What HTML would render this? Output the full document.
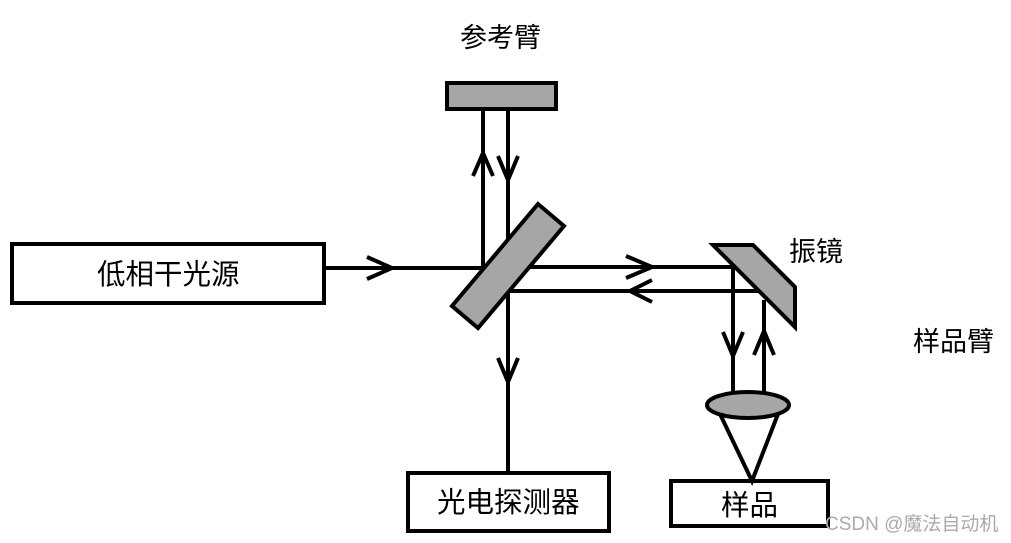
<!DOCTYPE html>
<html><head><meta charset="utf-8"><style>
html,body{margin:0;padding:0;background:#fff;}
svg{display:block;}
text{font-family:"Liberation Sans","Noto Sans CJK SC",sans-serif;fill:#000;}
</style></head><body>
<svg width="1011" height="543" viewBox="0 0 1011 543" xmlns="http://www.w3.org/2000/svg">
<g stroke="#000" stroke-width="4" fill="none">
<rect x="12" y="244" width="312" height="59" fill="#fff"/>
<rect x="408" y="473" width="201" height="58" fill="#fff"/>
<rect x="671" y="481" width="157" height="45" fill="#fff"/>
<rect x="447" y="83" width="109" height="26" fill="#a6a6a6"/>
<line x1="324" y1="268" x2="483" y2="268"/>
<line x1="483" y1="109" x2="483" y2="268"/>
<line x1="508" y1="109" x2="508" y2="471"/>
<line x1="520" y1="267" x2="733" y2="267"/>
<line x1="508" y1="291" x2="764" y2="291"/>
<line x1="733" y1="267" x2="733" y2="394"/>
<line x1="764" y1="300" x2="764" y2="394"/>
<polyline points="367,257 392,268 367,279"/>
<polyline points="473,176 483,153 493,176"/>
<polyline points="498,156 508,180 518,156"/>
<polyline points="626,256 652,267 626,278"/>
<polyline points="652,280 630,291 652,302"/>
<polyline points="498,358 508,382 518,358"/>
<polyline points="723,332 733,356 743,332"/>
<polyline points="754,355 764,331 774,355"/>
<polyline points="720,414 752,481 778,414"/>
</g>
<g stroke="#000" stroke-width="4" fill="#a6a6a6">
<polygon points="538,204 564,226 478,328 452,306"/>
<polygon points="713,245 753,245 795,287 795,327"/>
<ellipse cx="748" cy="405" rx="41" ry="13"/>
</g>
<text x="460" y="47" font-size="27">参考臂</text>
<text x="97" y="284" font-size="28.5">低相干光源</text>
<text x="437" y="512" font-size="28.5">光电探测器</text>
<text x="721" y="515" font-size="28.5">样品</text>
<text x="789" y="261" font-size="27">振镜</text>
<text x="913" y="351" font-size="27">样品臂</text>
<text x="825" y="530" font-size="19" style="fill:#aaa">CSDN @魔法自动机</text>
</svg>
</body></html>
